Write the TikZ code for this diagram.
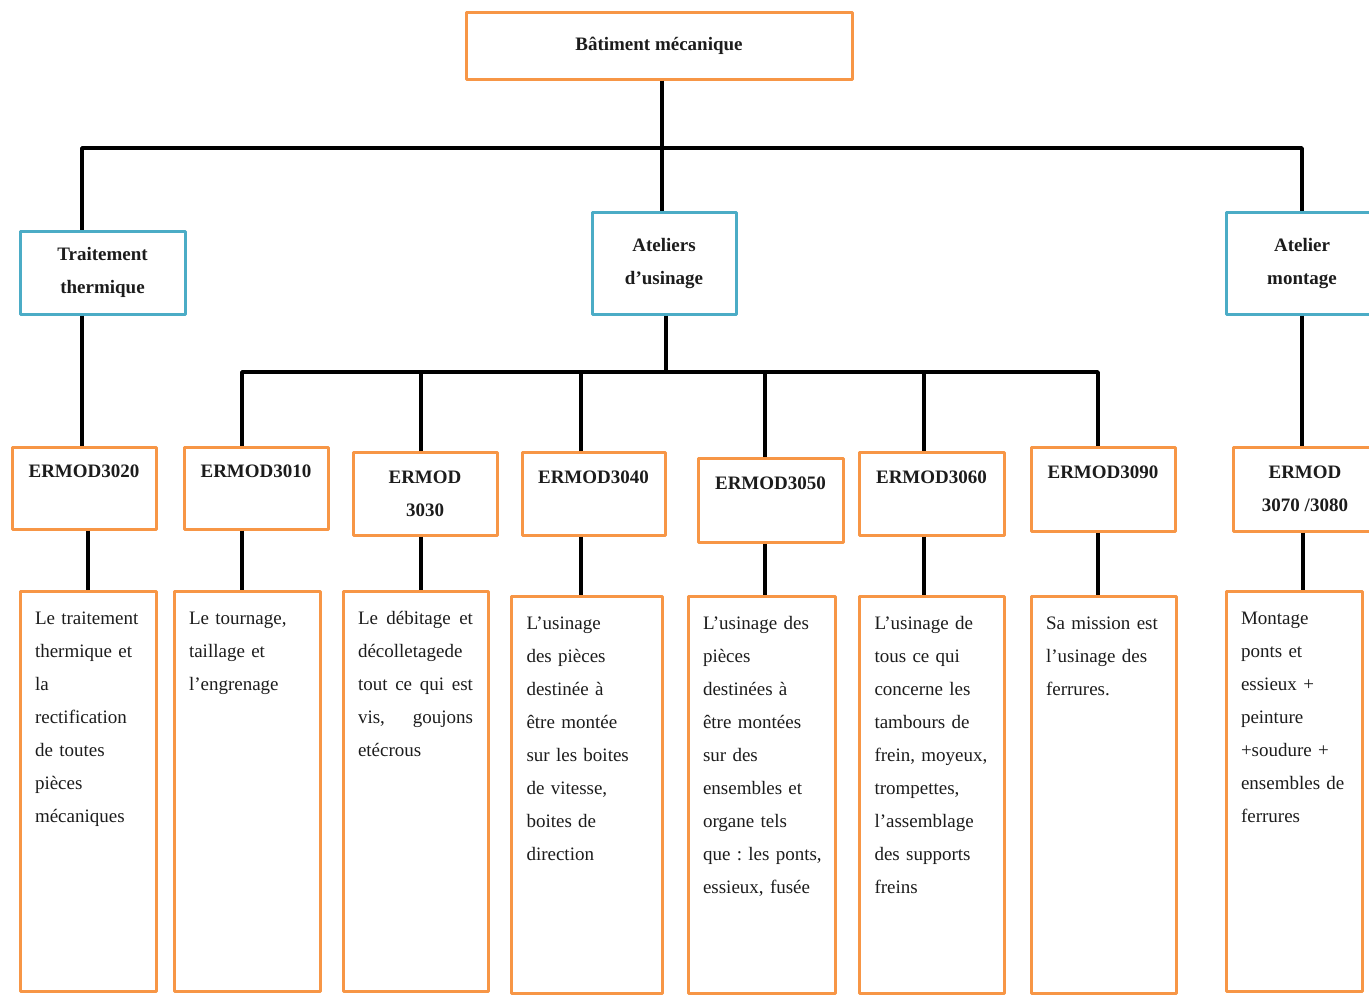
\documentclass[tikz,border=0pt]{standalone}
\usepackage{fontspec}
\setmainfont{Liberation Serif}
\usetikzlibrary{positioning}
\definecolor{ermorange}{RGB}{247,150,70}
\definecolor{unitblue}{RGB}{75,172,198}
\definecolor{inkgray}{RGB}{28,28,28}
\newcommand{\headfont}{\bfseries\fontsize{19}{33}\selectfont}
\newcommand{\descfont}{\frenchspacing\fontsize{19}{33}\selectfont}

\begin{document}
\begin{tikzpicture}[x=1pt,y=-1pt,line join=round,
    every node/.style={align=center,text=inkgray},
    link/.style={line width=3.5pt,black},
    rootbox/.style={draw=ermorange,line width=3pt,font=\headfont},
    unitbox/.style={draw=unitblue,line width=3pt,font=\headfont},
    codebox/.style={draw=ermorange,line width=3pt,minimum width=144pt,minimum height=83pt,font=\headfont},
    descbox/.style={draw=ermorange,line width=3pt,anchor=north,align=left,inner xsep=15pt,inner ysep=6pt,
      text height=26.6pt,text depth=#1,font=\descfont},
    descbox/.default=361.4pt]
  \useasboundingbox (0,0) rectangle (1369,994);

  % levels 1 and 2
  \node[rootbox,minimum width=386pt,minimum height=67pt] (root) at (659,45.5) {Bâtiment mécanique};
  \node[unitbox,minimum width=165pt,minimum height=83pt] (tt) at (102.5,272.5) {Traitement\\thermique};
  \node[unitbox,minimum width=144pt,minimum height=102pt] (ate) at (664,263) {Ateliers\\d’usinage};
  \node[unitbox,minimum width=152pt,minimum height=102pt] (mont) at (1302,263) {Atelier\\montage};

  % workshop codes
  \node[codebox,minimum height=82pt] (e3020) at (84,488) {ERMOD3020\\\mbox{}};
  \node[codebox,minimum height=82pt] (e3010) at (256,488) {ERMOD3010\\\mbox{}};
  \node[codebox] (e3030) at (425,493.5) {ERMOD\\3030};
  \node[codebox,minimum width=143pt] (e3040) at (593.5,493.5) {ERMOD3040\\\mbox{}};
  \node[codebox,minimum width=145pt,minimum height=84pt] (e3050) at (770.5,500) {ERMOD3050\\\mbox{}};
  \node[codebox,minimum width=145pt] (e3060) at (931.5,493.5) {ERMOD3060\\\mbox{}};
  \node[codebox,minimum height=84pt] (e3090) at (1103,489) {ERMOD3090\\\mbox{}};
  \node[codebox,minimum height=84pt] (e3070) at (1305,489) {ERMOD\\3070 /3080};

  % descriptions
  \node[descbox,text width=106pt] (d1) at (88,590) {Le traitement\\thermique et\\la\\rectification\\de toutes\\pièces\\mécaniques};
  \node[descbox,text width=116pt] (d2) at (247,590) {Le tournage,\\taillage et\\l’engrenage};
  \node[descbox,text width=115pt] (d3) at (415.5,590) {Le\hfill débitage\hfill et\\décolletagede\\tout\hfill ce\hfill qui\hfill est\\vis,\hfill goujons\\etécrous};
  \node[descbox=358.4pt,text width=121pt] (d4) at (587,595) {L’usinage\\des pièces\\destinée à\\être montée\\sur les boites\\de vitesse,\\boites de\\direction};
  \node[descbox=358.4pt,text width=117pt] (d5) at (761.5,595) {L’usinage des\\pièces\\destinées à\\être montées\\sur des\\ensembles et\\organe tels\\\mbox{que : les ponts,}\\essieux, fusée};
  \node[descbox=358.4pt,text width=115pt] (d6) at (932,595) {L’usinage de\\tous ce qui\\concerne les\\tambours de\\frein, moyeux,\\trompettes,\\l’assemblage\\des supports\\freins};
  \node[descbox=358.4pt,text width=115pt] (d7) at (1103.5,595) {Sa mission est\\l'usinage des\\ferrures.};
  \node[descbox,text width=106pt] (d8) at (1294,590) {Montage\\ponts et\\essieux +\\peinture\\+soudure +\\ensembles de\\ferrures};

  % tree links
  \coordinate (hub1) at (662,148);
  \coordinate (hub2) at (666,372);
  \draw[link] (root.south -| hub1) -- (ate.north -| hub1);
  \draw[link] ([xshift=-20.5pt]tt.north) |- (hub1) -| (mont.north);
  \draw[link] ([xshift=-20.5pt]tt.south) -- ([xshift=-20.5pt]tt.south |- e3020.north);
  \draw[link] (mont.south) -- (mont.south |- e3070.north);
  \draw[link] (ate.south -| hub2) -- (hub2);
  \draw[link] ([xshift=-14pt]e3010.north) |- (hub2) -| ([xshift=-5pt]e3090.north);
  \foreach \n/\dx in {e3030/-4,e3040/-12.5,e3050/-5.5,e3060/-7.5}
    \draw[link] ([xshift=\dx pt]\n.north |- hub2) -- ([xshift=\dx pt]\n.north);
  \foreach \n/\d/\dx in {e3020/d1/4,e3010/d2/-14,e3030/d3/-4,e3040/d4/-12.5,e3050/d5/-5.5,e3060/d6/-7.5,e3090/d7/-5,e3070/d8/-2}
    \draw[link] ([xshift=\dx pt]\n.south) -- ([xshift=\dx pt]\n.south |- \d.north);
\end{tikzpicture}
\end{document}
